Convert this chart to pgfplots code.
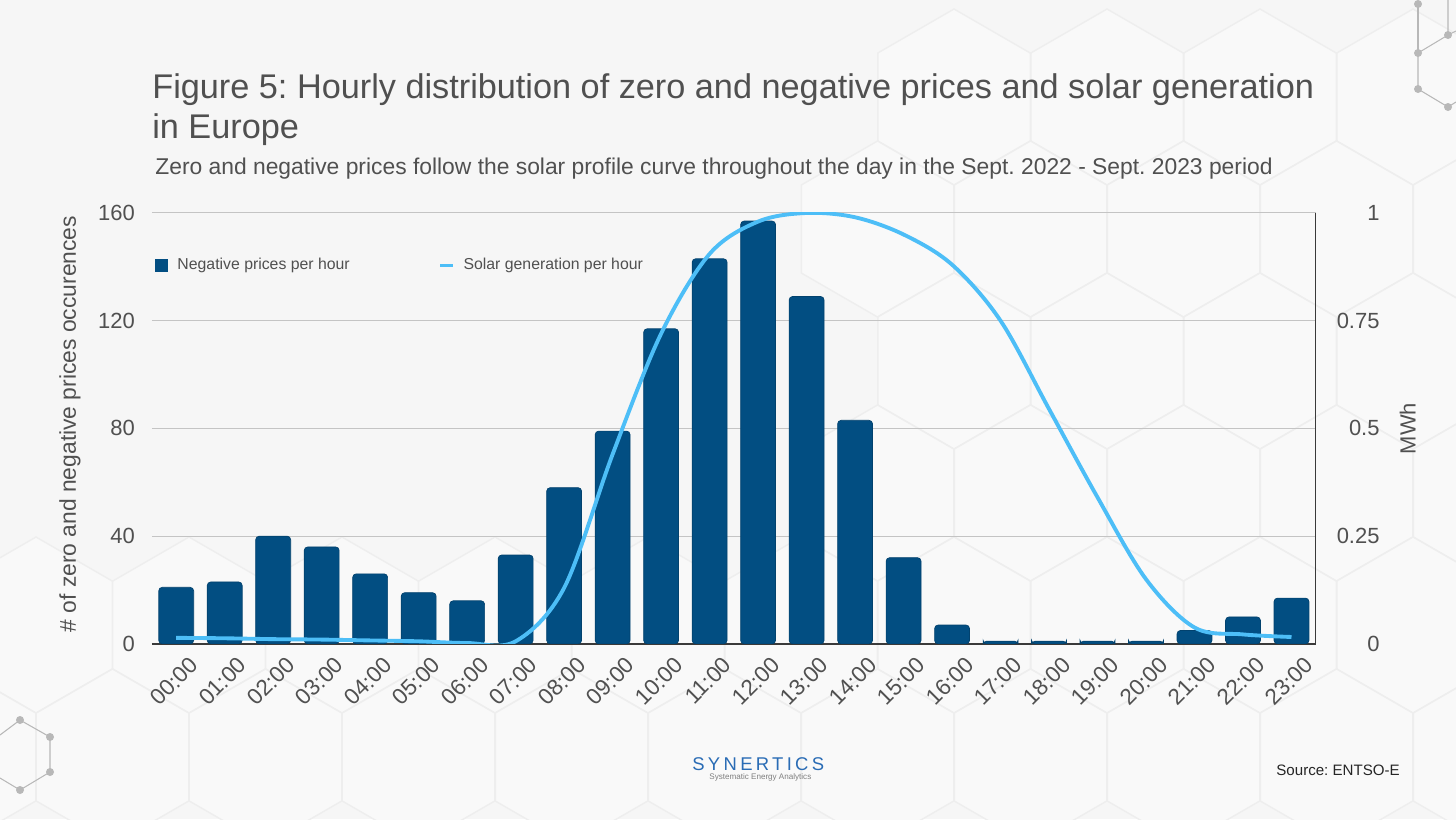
\documentclass[border=0pt]{standalone}
\usepackage{pgfplots}
\pgfplotsset{compat=1.18}
\usepackage{fontspec}
\setmainfont{Liberation Sans}
\frenchspacing
\definecolor{barblue}{HTML}{024E82}
\definecolor{solar}{HTML}{4DBEF7}
\definecolor{txt}{HTML}{505050}
\definecolor{bg}{HTML}{F6F6F6}
\definecolor{hexfill}{HTML}{F9F9F9}
\definecolor{hexedge}{HTML}{EEEEEE}
\definecolor{gridgray}{HTML}{C4C4C4}
\definecolor{axisgray}{HTML}{3A3A3A}
\definecolor{logoblue}{HTML}{2A6CB5}
\definecolor{molgray}{HTML}{B8B8B8}

\begin{document}
\begin{tikzpicture}
\begin{scope}[x=0.02cm,y=-0.02cm]
\useasboundingbox (0,0) rectangle (1456,819);
\fill[bg] (0,0) rectangle (1456,819);
% background hexagons (decoration)
\foreach \cy/\xs/\n in {97/954/4, 229/877.5/5, 361/954/4, 493/877.5/5, 625/36/10, 757/-40.5/11} {
  \foreach \i in {0,...,\n} {
    \pgfmathsetmacro\cx{\xs+153*\i}
    \path[fill=hexfill, draw=hexedge, line width=0.8pt]
      (\cx,\cy) +(30:88) -- +(90:88) -- +(150:88) -- +(210:88) -- +(270:88) -- +(330:88) -- cycle;
  }
}
% molecule decorations
\draw[molgray, line width=0.6pt] (1448,0) -- (1448,35) -- (1418,53) -- (1418,89) -- (1448,107) -- (1456,102);
\draw[molgray, line width=0.6pt] (1418,53) -- (1418,2);
\draw[molgray, line width=0.6pt] (1448,35) -- (1456,31);
\foreach \p in {(1448,35),(1418,53),(1418,89),(1448,107),(1418,4)} \fill[molgray] \p circle (4);
\draw[molgray, line width=0.6pt] (0,735) -- (20,720) -- (50,737) -- (50,772) -- (20,790) -- (0,778);
\foreach \p in {(20,720),(50,737),(50,772),(20,790)} \fill[molgray] \p circle (4);
% titles
\node[anchor=base west, inner sep=0, text=txt, font=\fontsize{19.5}{23}\selectfont] at (152,98)
  {Figure 5: Hourly distribution of zero and negative prices and solar generation};
\node[anchor=base west, inner sep=0, text=txt, font=\fontsize{19.5}{23}\selectfont] at (152,138)
  {in Europe};
\node[anchor=base west, inner sep=0, text=txt, font=\fontsize{13}{15}\selectfont] at (155,174)
  {Zero and negative prices follow the solar profile curve throughout the day in the Sept. 2022 - Sept. 2023 period};
% logo and source
\node[anchor=base west, inner sep=0, text=logoblue, font=\fontsize{10.5}{12}\selectfont\addfontfeatures{LetterSpace=18}] at (692,770) {SYNERTICS};
\node[anchor=base west, inner sep=0, text=gray, font=\fontsize{4.6}{5}\selectfont] at (709,779) {Systematic Energy Analytics};
\node[anchor=base west, inner sep=0, text=black!85, font=\fontsize{8.6}{10}\selectfont] at (1276,775) {Source: ENTSO-E};
\end{scope}

\begin{axis}[
  at={(3.04cm,-12.88cm)}, anchor=south west,
  scale only axis, width=23.28cm, height=8.62cm,
  xmin=-0.5, xmax=23.5, ymin=0, ymax=160,
  axis y line*=left, axis x line*=bottom,
  y axis line style={draw=none},
  x axis line style={draw=axisgray, line width=1pt},
  ytick={0,40,80,120,160},
  xtick={0,...,23},
  xticklabels={00:00,01:00,02:00,03:00,04:00,05:00,06:00,07:00,08:00,09:00,10:00,11:00,12:00,13:00,14:00,15:00,16:00,17:00,18:00,19:00,20:00,21:00,22:00,23:00},
  major tick length=0pt,
  ymajorgrids, grid style={draw=gridgray, line width=0.6pt},
  tick label style={font=\fontsize{12.5}{15}\selectfont, text=txt},
  /pgf/number format/assume math mode=true,
  xticklabel style={xshift=0.24cm, yshift=-0.18cm, rotate=45, anchor=north east, font=\fontsize{12.8}{15}\selectfont, inner sep=1pt},
  yticklabel style={xshift=-0.22cm},
  ylabel={\# of zero and negative prices occurences},
  every axis y label/.style={at={(axis description cs:-0.0704,0.51)}, rotate=90, anchor=center, font=\fontsize{13}{15}\selectfont, text=txt},
  ybar, bar width=0.72,
]
\addplot[fill=barblue, draw=barblue!85!black, rounded corners=2pt] coordinates {
(0,21) (1,23) (2,40) (3,36) (4,26) (5,19) (6,16) (7,33) (8,58) (9,79) (10,117) (11,143)
(12,157) (13,129) (14,83) (15,32) (16,7) (17,1) (18,1) (19,1) (20,1) (21,5) (22,10) (23,17)};
\end{axis}

\begin{axis}[
  at={(3.04cm,-12.88cm)}, anchor=south west,
  scale only axis, width=23.28cm, height=8.62cm,
  xmin=-0.5, xmax=23.5, ymin=0, ymax=1,
  axis y line*=right, axis x line=none,
  y axis line style={draw=axisgray, line width=0.8pt},
  ytick={0,0.25,0.5,0.75,1},
  yticklabels={0,0.25,0.5,0.75,1},
  major tick length=0pt,
  tick label style={font=\fontsize{12.5}{15}\selectfont, text=txt},
  yticklabel style={anchor=east, xshift=1.40cm},
  ylabel={MWh},
  every axis y label/.style={at={(axis description cs:1.079,0.5)}, rotate=90, anchor=center, font=\fontsize{12.5}{15}\selectfont, text=txt},
  legend columns=2,
  legend style={at={(axis description cs:-0.002,0.879)}, anchor=west, draw=none, fill=none,
    font=\fontsize{9}{11}\selectfont, text=txt,
    /tikz/every even column/.append style={column sep=1.71cm}},
]
\addlegendimage{legend image code/.code={\fill[barblue] (0cm,-0.12cm) rectangle (0.24cm,0.12cm); \path (0.36cm,0cm);}}
\addlegendentry{Negative prices per hour}
\addplot[solar, line width=2.2pt, smooth, tension=0.55,
  legend image code/.code={\draw[solar, line width=1.6pt] (0cm,0cm) -- (0.26cm,0cm); \path (0.36cm,0cm);}] coordinates {
(0,0.014) (1,0.013) (2,0.011) (3,0.010) (4,0.008) (5,0.006) (6,0.002) (7,0.006) (8,0.13) (9,0.44)
(10,0.72) (11,0.905) (12,0.98) (13,1.0) (14,0.99) (15,0.95) (16,0.88) (17,0.75) (18,0.545)
(19,0.34) (20,0.15) (21,0.038) (22,0.022) (23,0.016)};
\addlegendentry{Solar generation per hour}
\end{axis}
\end{tikzpicture}
\end{document}
